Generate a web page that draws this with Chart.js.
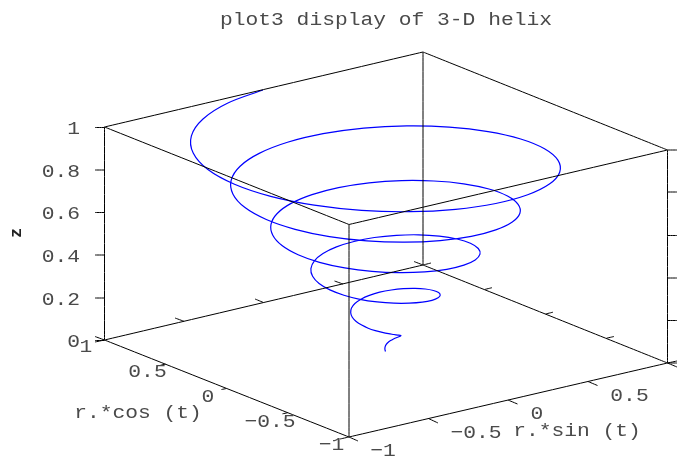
<!DOCTYPE html>
<html>
<head>
<meta charset="utf-8">
<style>
  html, body { margin: 0; padding: 0; background: #fff; }
  canvas { display: block; }
</style>
<script src="https://cdn.jsdelivr.net/npm/chart.js@4"></script>
</head>
<body>
<canvas id="helixChart" width="691" height="457"></canvas>
<script>
// helix, in picture coordinates
var helixX = [385.5,384.9,385.1,386.1,388.0,390.6,393.5,396.3,398.8,400.4,401.0,400.1,397.8,393.9,388.6,382.3,375.3,368.2,361.7,356.2,352.3,350.7,351.5,354.9,
  361.0,369.4,379.7,391.3,403.3,415.0,425.3,433.4,438.6,440.2,438.1,432.0,422.3,409.3,393.9,377.1,360.0,343.9,329.9,319.1,312.6,310.9,314.4,323.0,
  336.5,354.0,374.4,396.5,418.6,439.3,457.1,470.4,478.3,480.0,475.2,463.9,446.8,424.7,399.2,372.0,344.7,319.5,298.1,282.0,272.8,271.0,277.2,291.1,
  312.0,338.5,369.1,401.6,433.9,463.7,488.9,507.5,518.1,519.9,512.3,495.8,471.3,440.2,404.6,366.8,329.4,295.1,266.3,245.0,233.0,231.2,240.1,259.2,
  287.5,323.1,363.8,406.8,449.2,488.1,520.7,544.5,557.9,559.7,549.4,527.7,495.8,455.6,409.9,361.6,314.2,270.7,234.5,207.9,193.2,191.4,203.0,227.4,263.0];
var helixY = [351.5,349.3,346.9,344.7,342.5,340.6,339.0,337.7,336.8,336.1,335.7,335.4,335.1,334.5,333.7,332.4,330.6,328.2,325.1,321.5,317.3,312.8,308.1,303.5,
  299.2,295.4,292.2,290.0,288.7,288.4,289.0,290.5,292.6,295.2,297.8,300.3,302.2,303.2,303.2,301.9,299.3,295.2,289.9,283.5,276.3,268.6,260.8,253.5,
  246.9,241.5,237.5,235.3,234.8,236.1,239.0,243.2,248.5,254.2,259.9,265.1,269.3,271.9,272.7,271.4,267.9,262.3,254.7,245.5,235.2,224.4,213.5,203.4,
  194.6,187.6,182.8,180.6,181.0,183.8,189.0,196.0,204.3,213.2,222.0,229.9,236.4,240.6,242.2,240.9,236.6,229.3,219.5,207.6,194.2,180.1,166.2,153.4,
  142.3,133.7,128.1,125.9,127.1,131.6,139.0,148.8,160.2,172.2,184.1,194.8,203.5,209.3,211.7,210.4,205.2,196.4,184.3,169.6,153.1,135.9,119.0,103.3,90.0];

// box outline, null breaks the line
var boxX = [104.5,349,667.5,423,104.5,null, 104.5,349,667.5,423,104.5,null,
  104.5,104.5,null, 349,349,null, 667.5,667.5,null, 423,423];
var boxY = [340,437,363,265,340,null, 127,224.5,150,52,127,null,
  127,340,null, 224.5,437,null, 150,363,null, 52,265];

var zTickY = [127.5,170,212.5,255,298,340.5];
var rightTickY = [150,192,235.5,278,320.5,363];
var xTickEdgeX = [165.5,226.5,287.5], xTickEdgeY = [364.2,388.5,412.8];

var tickX = [], tickY = [];
function seg(x0, y0, x1, y1) { tickX.push(x0, x1, null); tickY.push(y0, y1, null); }
zTickY.forEach(function (y) { seg(95, y, 104.5, y); });
rightTickY.forEach(function (y) { seg(667.5, y, 677, y); });
// along the floor edges
seg(95,336.5,104.5,340); seg(175,318,184,321.3); seg(255,299,263.5,302.5); seg(334.5,281,343,284); seg(414,261.5,423,265);
seg(349,437,358,441); seg(428.5,418.5,438,423); seg(508,400,517.5,404); seg(588,381.5,597.5,385.5); seg(667.5,363,677,367);
seg(95,342,104.5,340);
xTickEdgeX.forEach(function (x, i) { seg(x - 5, xTickEdgeY[i] + 1, x, xTickEdgeY[i]); });
seg(340,439,349,437);
seg(423,265,431,263); seg(484.5,289.5,492,287.7); seg(545.5,314,553,312.2); seg(606.5,338.2,614,336.5); seg(667.5,363,677,361);

var titleText = 'plot3 display of 3-D helix';
var zTicks = ['1','0.8','0.6','0.4','0.2','0'];
var zTickRowY = [129,171.5,214,257,299.5,342];
var xTicks = ['1','0.5','0','\u22120.5','\u22121'];
var xTickPos = [[86,347],[147.5,372],[208,396.5],[270,421.5],[331.5,445]];
var yTicks = ['\u22121','\u22120.5','0','0.5'];
var yTickPos = [[383,451],[476,433],[537,414],[629.5,395.5]];
var xName = 'r.*cos (t)', yName = 'r.*sin (t)', zName = 'z';

var FONT = '19px "Liberation Mono"';
var WIDEN = 1.12;
function put(ctx, txt, x, y, align) {
  ctx.save();
  ctx.translate(x, y);
  ctx.scale(WIDEN, 1);
  ctx.textAlign = align || 'center';
  ctx.fillText(txt, 0, 0);
  ctx.restore();
}

var labelPlugin = {
  id: 'labels',
  afterDraw: function (chart) {
    var ctx = chart.ctx, sx = chart.scales.x, sy = chart.scales.y;
    function at(t, x, y, align) { put(ctx, t, sx.getPixelForValue(x), sy.getPixelForValue(y), align); }
    ctx.save();
    ctx.font = FONT;
    ctx.fillStyle = '#4a4a4a';
    ctx.textBaseline = 'middle';
    at(titleText, 386, 19.5);
    zTicks.forEach(function (t, i) { at(t, 80, zTickRowY[i], 'right'); });
    xTicks.forEach(function (t, i) { at(t, xTickPos[i][0], xTickPos[i][1]); });
    yTicks.forEach(function (t, i) { at(t, yTickPos[i][0], yTickPos[i][1]); });
    at(xName, 138, 412.5);
    at(yName, 577, 431);
    ctx.save();
    ctx.translate(sx.getPixelForValue(17), sy.getPixelForValue(233));
    ctx.rotate(-Math.PI / 2);
    ctx.textAlign = 'center';
    ctx.fillStyle = '#222';
    ctx.font = 'bold 17px "Liberation Mono"';
    ctx.fillText(zName, 0, 0);
    ctx.restore();
    ctx.restore();
  }
};

function toPoints(xs, ys) {
  return xs.map(function (x, i) { return { x: x, y: ys[i] }; });
}

var ctx = document.getElementById('helixChart').getContext('2d');
new Chart(ctx, {
  type: 'scatter',
  data: {
    datasets: [
      // tiny tension keeps Chart.js off its fast path, which darkens vertical lines
      { label: 'box', data: toPoints(boxX, boxY), showLine: true, borderColor: '#000', borderWidth: 1, pointRadius: 0, spanGaps: false, tension: 0.000001 },
      { label: 'ticks', data: toPoints(tickX, tickY), showLine: true, borderColor: '#000', borderWidth: 1, pointRadius: 0, spanGaps: false, tension: 0.000001 },
      { label: 'helix', data: toPoints(helixX, helixY), showLine: true, borderColor: '#0000ff', borderWidth: 1.2, pointRadius: 0, tension: 0.35 }
    ]
  },
  options: {
    responsive: false,
    animation: false,
    layout: { padding: 0 },
    plugins: { legend: { display: false }, tooltip: { enabled: false } },
    scales: {
      x: { type: 'linear', display: false, min: 0, max: 691 },
      y: { type: 'linear', display: false, min: 0, max: 457, reverse: true }
    }
  },
  plugins: [labelPlugin]
});
</script>
</body>
</html>
